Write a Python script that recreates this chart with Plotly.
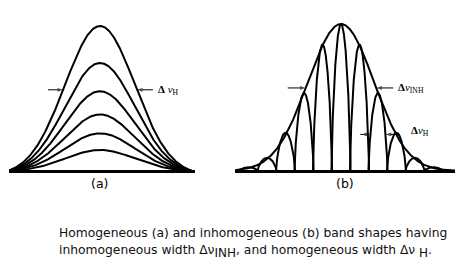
import numpy as np
import plotly.graph_objects as go

# ---------------- data ----------------
# Panel (a): homogeneous band - nested curves, relative peak heights
a_heights = [1.0, 0.745, 0.55, 0.39, 0.26, 0.145]
a_sigma = 1.0        # common width of all curves (frequency units)
a_support = 2.63     # half-extent where curves meet the baseline

# Panel (b): inhomogeneous envelope and homogeneous packets
b_env_height = 1.0
b_env_sigma = 1.0
b_line_index = [-5, -4, -3, -2, -1, 0, 1, 2, 3, 4, 5]
b_line_heights = [0.025, 0.09, 0.26, 0.53, 0.86, 1.0, 0.86, 0.53, 0.26, 0.09, 0.025]
b_line_spacing = 0.56
b_line_w = 0.29      # homogeneous line half-extent
b_line_q = 0.75      # line profile exponent

panel_labels = ["(a)", "(b)"]
caption_1 = "Homogeneous (a) and inhomogeneous (b) band shapes having"
caption_2 = ("inhomogeneous width Δν<sub><span style='font-size:12px'>INH</span></sub>, "
             "and homogeneous width Δν <sub><span style='font-size:12px'>H</span></sub>.")

# ---------------- layout constants (pixels) ----------------
W, H = 469, 270
BASE_PX = 171
TOP_PX, BOT_PX = 15, 176
A_CX, A_SCALE, A_X0, A_X1, A_YS = 100, 35.0, 9, 195, 145.0
B_CX, B_SCALE, B_X0, B_X1, B_YS = 341, 33.0, 235, 455, 147.0

LINE = dict(color="black", width=2)

fig = go.Figure()

# ---- panel (a) ----
xa = np.linspace(-a_support, a_support, 600)
e0 = np.exp(-a_support**2 / (2 * a_sigma**2))
shape_a = (np.exp(-xa**2 / (2 * a_sigma**2)) - e0) / (1 - e0)
for h in a_heights:
    fig.add_trace(go.Scatter(x=xa, y=h * shape_a, mode="lines", line=LINE,
                             xaxis="x", yaxis="y", hoverinfo="skip"))

# ---- panel (b) ----
xb = np.linspace((B_X0 - B_CX) / B_SCALE, (B_X1 - B_CX) / B_SCALE, 1600)
env = b_env_height * np.exp(-xb**2 / (2 * b_env_sigma**2))
fig.add_trace(go.Scatter(x=xb, y=env, mode="lines", line=LINE,
                         xaxis="x2", yaxis="y2", hoverinfo="skip"))


def line_profile(x, c, h):
    u = np.clip(1 - ((x - c) / b_line_w) ** 2, 0, None)
    return h * u ** b_line_q


for k, h in zip(b_line_index, b_line_heights):
    c = k * b_line_spacing
    xs = np.linspace(c - b_line_w, c + b_line_w, 301)
    fig.add_trace(go.Scatter(x=xs, y=line_profile(xs, c, h), mode="lines", line=LINE,
                             xaxis="x2", yaxis="y2", hoverinfo="skip"))

# ---------------- arrows and labels ----------------
def arrow(xa_name, ya_name, x, y, dx_px, scale):
    tail = x + dx_px / scale
    fig.add_trace(go.Scatter(x=[tail, x], y=[y, y], mode="lines+markers",
                             line=dict(color="black", width=1),
                             marker=dict(symbol="arrow", angleref="previous",
                                         size=[0, 6], color="black", line=dict(width=0)),
                             xaxis=xa_name, yaxis=ya_name, hoverinfo="skip"))

def label(xref, yref, x, y, txt, shift, size=11):
    fig.add_annotation(x=x, y=y, xref=xref, yref=yref, text=txt, showarrow=False,
                       xanchor="left", yanchor="middle", xshift=shift,
                       font=dict(family="Liberation Serif", size=size, color="black"))

# panel a: width of outer curve at level 0.56
lev_a = 0.56
g = lev_a * (1 - e0) + e0
xa_half = a_sigma * np.sqrt(2 * np.log(1 / g))
arrow("x", "y", -xa_half, lev_a, -15, A_SCALE)
arrow("x", "y", xa_half, lev_a, 16, A_SCALE)
label("x", "y", xa_half, lev_a, "<b>Δ</b> <i>ν</i><sub>H</sub>", 19)

# panel b: envelope width
lev_b = 0.565
xb_half = b_env_sigma * np.sqrt(2 * np.log(1 / lev_b))
arrow("x2", "y2", -xb_half, lev_b, -18, B_SCALE)
arrow("x2", "y2", xb_half, lev_b, 17, B_SCALE)
label("x2", "y2", xb_half, lev_b, "<b>Δ</b><i>ν</i><sub>INH</sub>", 20)

# panel b: homogeneous width of line k=2
k2 = 2
c2 = k2 * b_line_spacing
h2 = b_line_heights[b_line_index.index(k2)]
frac = 0.47
hw = b_line_w * np.sqrt(1 - frac ** (1 / b_line_q))
arrow("x2", "y2", c2 - hw, frac * h2, -10, B_SCALE)
arrow("x2", "y2", c2 + hw, frac * h2, 14, B_SCALE)
label("x2", "y2", c2 + hw, frac * h2 + 0.02, "<b>Δ</b><i>ν</i><sub>H</sub>", 23)

# panel labels
lab_font = dict(family="DejaVu Sans", size=12.5, color="black")
fig.add_annotation(x=99 / W, y=1 - 183 / H, xref="paper", yref="paper", text=panel_labels[0],
                   showarrow=False, xanchor="center", yanchor="middle", font=lab_font)
fig.add_annotation(x=345 / W, y=1 - 183 / H, xref="paper", yref="paper", text=panel_labels[1],
                   showarrow=False, xanchor="center", yanchor="middle", font=lab_font)

# caption
cap_font = dict(family="DejaVu Sans", size=12.3, color="#111111")
fig.add_annotation(x=57 / W, y=1 - 233 / H, xref="paper", yref="paper", text=caption_1,
                   showarrow=False, xanchor="left", yanchor="middle", font=cap_font)
fig.add_annotation(x=57 / W, y=1 - 251 / H, xref="paper", yref="paper", text=caption_2,
                   showarrow=False, xanchor="left", yanchor="middle", font=cap_font)

# ---------------- axes ----------------
def ax_common():
    return dict(showgrid=False, showticklabels=False, ticks="", showline=False, zeroline=False,
                fixedrange=True)

ydom = [1 - BOT_PX / H, 1 - TOP_PX / H]
fig.update_layout(
    width=W, height=H, autosize=False,
    margin=dict(l=0, r=0, t=0, b=0),
    paper_bgcolor="white", plot_bgcolor="rgba(0,0,0,0)",
    showlegend=False,
    xaxis=dict(domain=[A_X0 / W, A_X1 / W],
               range=[(A_X0 - A_CX) / A_SCALE, (A_X1 - A_CX) / A_SCALE], **ax_common()),
    yaxis=dict(domain=ydom, anchor="x",
               range=[(BASE_PX - BOT_PX) / A_YS, (BASE_PX - TOP_PX) / A_YS],
               **{**ax_common(), "zeroline": True}, zerolinecolor="black", zerolinewidth=3),
    xaxis2=dict(domain=[B_X0 / W, B_X1 / W],
                range=[(B_X0 - B_CX) / B_SCALE, (B_X1 - B_CX) / B_SCALE], **ax_common()),
    yaxis2=dict(domain=ydom, anchor="x2",
                range=[(BASE_PX - BOT_PX) / B_YS, (BASE_PX - TOP_PX) / B_YS],
                **{**ax_common(), "zeroline": True}, zerolinecolor="black", zerolinewidth=3),
)

fig.write_html("out.html")
